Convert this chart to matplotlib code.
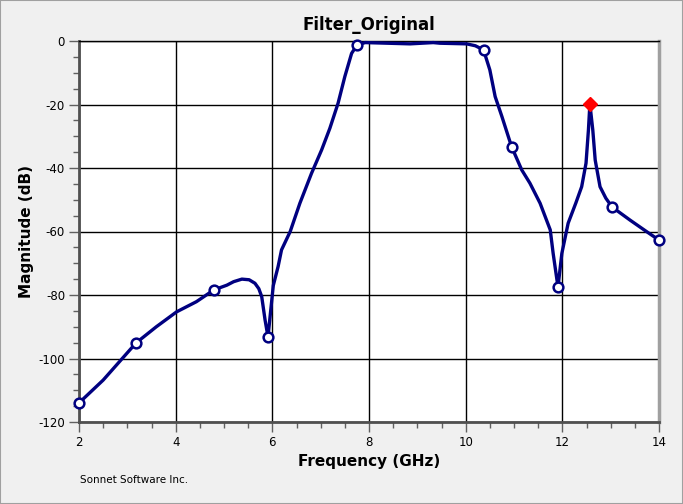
import matplotlib
matplotlib.use('Agg')
import matplotlib.pyplot as plt
from matplotlib.ticker import MultipleLocator

plt.rcParams['axes.unicode_minus'] = False

# S21 magnitude
freq = [2.0, 2.5, 3.18, 3.6, 4.02, 4.43, 4.79, 5.06, 5.2, 5.37, 5.52, 5.64, 5.72,
        5.78, 5.85, 5.91, 6.02, 6.12, 6.19, 6.37, 6.57, 6.81, 7.02, 7.19, 7.36,
        7.50, 7.64, 7.75, 7.92, 8.85, 9.33, 9.47, 10.02, 10.20, 10.37, 10.50,
        10.61, 10.75, 10.95, 11.16, 11.33, 11.54, 11.75, 11.81, 11.91, 11.99,
        12.12, 12.28, 12.40, 12.49, 12.54, 12.57, 12.63, 12.68, 12.78, 12.9,
        13.03, 13.40, 13.74, 14.0]
mag = [-114.0, -106.8, -95.1, -90.0, -85.3, -82.1, -78.4, -76.9, -75.8, -75.0,
       -75.2, -76.3, -78.0, -80.5, -87.9, -93.2, -77.0, -71.0, -65.8, -60.0,
       -51.1, -41.7, -34.3, -27.5, -19.6, -11.2, -3.9, -1.3, -0.5, -0.9, -0.5,
       -0.7, -0.9, -1.5, -2.8, -9.1, -17.5, -23.8, -33.3, -40.6, -44.8, -51.1,
       -59.5, -66.9, -77.5, -66.9, -57.4, -51.0, -45.9, -38.5, -28.0, -19.8,
       -28.0, -37.5, -45.9, -49.5, -52.3, -56.4, -60.0, -62.7]

# sweep points shown as open circles
marker_freq = [2.0, 3.18, 4.79, 5.91, 7.75, 10.37, 10.95, 11.91, 13.03, 14.0]
# the selected point (red diamond)
sel_freq = [12.57]

marker_idx = [freq.index(f) for f in marker_freq]
sel_idx = [freq.index(f) for f in sel_freq]

fig = plt.figure(figsize=(6.83, 5.04), dpi=100, facecolor='#f0f0f0')
ax = fig.add_axes([79/683, 1 - 422/504, 580/683, 381/504])
ax.set_facecolor('white')

ax.plot(freq, mag, color='#000080', lw=2.4, solid_joinstyle='round', zorder=3,
        marker='o', markevery=marker_idx, markersize=7, markerfacecolor='white',
        markeredgecolor='#000080', markeredgewidth=1.8, clip_on=False)
ax.plot([freq[i] for i in sel_idx], [mag[i] for i in sel_idx], linestyle='none',
        marker='D', markersize=7, markerfacecolor='red', markeredgecolor='red',
        zorder=4, clip_on=False)

ax.set_xlim(2, 14)
ax.set_ylim(-120, 0)
ax.xaxis.set_major_locator(MultipleLocator(2))
ax.xaxis.set_minor_locator(MultipleLocator(0.5))
ax.yaxis.set_major_locator(MultipleLocator(20))
ax.yaxis.set_minor_locator(MultipleLocator(5))
ax.grid(True, which='major', color='black', lw=1)
ax.set_axisbelow(True)

ax.tick_params(which='major', direction='out', length=7, width=1, color='#606060',
               labelsize=8.5, pad=3)
ax.tick_params(which='minor', direction='out', length=4, width=1, color='#606060')

ax.spines['left'].set_color('#505050')
ax.spines['left'].set_linewidth(2)
ax.spines['bottom'].set_color('#505050')
ax.spines['bottom'].set_linewidth(2)
ax.spines['top'].set_color('black')
ax.spines['top'].set_linewidth(1)
ax.spines['right'].set_color('#a0a0a0')
ax.spines['right'].set_linewidth(2.5)

ax.set_title('Filter_Original', fontsize=12, fontweight='bold', pad=8)
ax.set_xlabel('Frequency (GHz)', fontsize=11, fontweight='bold', labelpad=4)
ax.set_ylabel('Magnitude (dB)', fontsize=11, fontweight='bold')
ax.yaxis.set_label_coords(-0.077, 0.5)

fig.text(80/683, 1 - 480/504, 'Sonnet Software Inc.', fontsize=7.5, va='center')

# thin grey border around the window
fig.patches.append(plt.Rectangle((0, 0), 1, 1, transform=fig.transFigure,
                                 fill=False, edgecolor='#a0a0a0', lw=1.5))

fig.savefig('out.png', dpi=100, facecolor=fig.get_facecolor())
